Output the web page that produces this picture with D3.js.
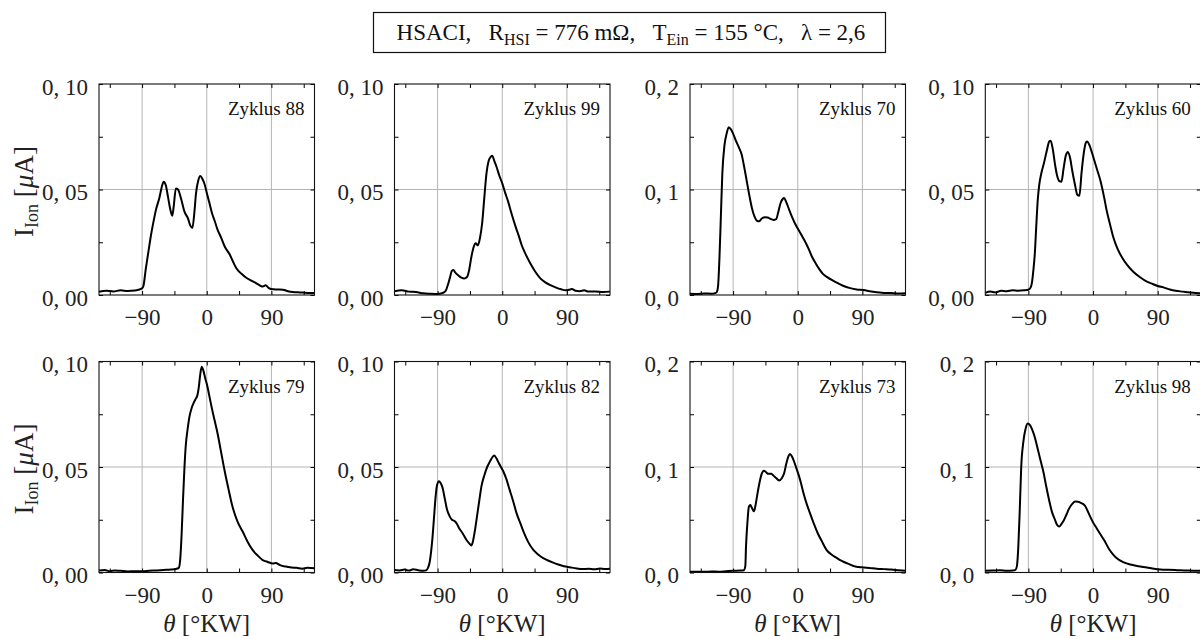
<!DOCTYPE html>
<html><head><meta charset="utf-8">
<script src="https://cdn.jsdelivr.net/npm/d3@7"></script>
<style>
html,body{margin:0;padding:0;background:#fff;}
svg{display:block;font-family:"Liberation Serif","Times New Roman",serif;}
</style></head><body>
<svg id="chart" width="1200" height="639"></svg>
<script>
// ---------- data ----------
const cycles = [88, 99, 70, 60, 79, 82, 73, 98];
const yMaxes = [0.10, 0.10, 0.2, 0.10, 0.10, 0.10, 0.2, 0.2];
const xTicksMajor = [-90, 0, 90];
const xTicksMinor = [-135, -45, 45, 135];
const yTicks010 = [0, 0.05, 0.10];
const yTickLabels010 = ["0, 00", "0, 05", "0, 10"];
const yTicks02 = [0, 0.1, 0.2];
const yTickLabels02 = ["0, 0", "0, 1", "0, 2"];

const theta88 = [-150,-140,-130,-120,-110,-100,-95,-90,-88,-85,-81,-78,-74,-71,-66,-62,-60,-57,-54,-51,-48,-46,-43,-40,-36,-31,-26,-23,-20,-17,-15,-12,-9,-6,-3,0,4,8,11,15,20,25,32,37,41,48,55,62,69,74,78,82,86,90,98,106,113,120,130,140,150];
const ion88   = [0.0015,0.0020,0.0017,0.0022,0.0019,0.0021,0.0025,0.0032,0.0045,0.012,0.021,0.0276,0.035,0.040,0.046,0.052,0.0537,0.052,0.0466,0.041,0.0376,0.042,0.0505,0.050,0.046,0.0395,0.0362,0.033,0.0318,0.040,0.048,0.054,0.0564,0.055,0.0525,0.0485,0.0432,0.038,0.0352,0.031,0.0272,0.023,0.0192,0.0155,0.0128,0.0102,0.0082,0.0068,0.0055,0.0045,0.0040,0.0046,0.0034,0.0028,0.0026,0.0025,0.0018,0.0014,0.0012,0.0010,0.0009];

const theta99 = [-150,-140,-130,-120,-110,-100,-90,-84,-79,-76,-73,-70,-68,-65,-61,-57,-53,-49,-46,-43,-40,-37,-34,-31,-28,-25,-22,-19,-16,-14,-11,-8,-4,0,4,8,13,18,23,27,33,39,46,53,60,67,75,82,88,93,97,102,108,114,120,130,140,150];
const ion99   = [0.0018,0.0022,0.0016,0.0014,0.0008,0.0006,0.0005,0.0008,0.0018,0.0045,0.008,0.0115,0.0118,0.0105,0.0092,0.0082,0.0078,0.0085,0.012,0.018,0.0225,0.0245,0.0235,0.027,0.034,0.046,0.0575,0.0635,0.0655,0.066,0.0635,0.0608,0.0565,0.0529,0.0485,0.0445,0.0385,0.0330,0.028,0.0237,0.019,0.015,0.011,0.0079,0.0060,0.0047,0.0035,0.0027,0.0022,0.0025,0.0028,0.0020,0.0018,0.0022,0.0016,0.0017,0.0014,0.0016];

const theta70 = [-150,-140,-130,-120,-115,-113,-111,-109,-107,-105,-102,-99,-96,-93,-90,-86,-82,-78,-75,-71,-67,-64,-60,-57,-54,-50,-46,-42,-38,-34,-30,-27,-24,-21,-19,-16,-12,-8,-4,0,5,10,15,20,25,30,35,41,48,55,63,73,82,92,100,110,120,130,140,150];
const ion70   = [0.0012,0.0010,0.0015,0.0012,0.0018,0.0025,0.008,0.035,0.075,0.115,0.142,0.153,0.159,0.157,0.153,0.146,0.140,0.133,0.123,0.108,0.093,0.083,0.074,0.0705,0.0698,0.0725,0.0738,0.0735,0.0722,0.0712,0.072,0.079,0.087,0.091,0.092,0.088,0.081,0.074,0.068,0.063,0.057,0.051,0.044,0.036,0.030,0.0245,0.020,0.017,0.014,0.0115,0.0088,0.0065,0.0052,0.0047,0.0035,0.0025,0.0020,0.0018,0.0015,0.0017];

const theta60 = [-150,-143,-136,-128,-120,-112,-104,-96,-90,-87,-85,-83,-81,-79,-77,-75,-72,-68,-64,-61,-59,-56,-53,-50,-47,-44,-41,-38,-35,-32,-29,-25,-22,-19,-16,-13,-10,-8,-5,-2,2,6,10,15,19,24,28,34,40,48,56,65,75,83,90,98,107,115,125,135,143,150];
const ion60   = [0.0010,0.0016,0.0012,0.0020,0.0018,0.0022,0.0020,0.0022,0.0025,0.0035,0.006,0.012,0.020,0.033,0.045,0.052,0.0577,0.063,0.069,0.0728,0.0731,0.069,0.062,0.0565,0.054,0.0537,0.060,0.066,0.0678,0.065,0.059,0.052,0.0475,0.047,0.058,0.067,0.0722,0.0727,0.071,0.068,0.0635,0.059,0.0545,0.047,0.040,0.033,0.0276,0.022,0.018,0.0140,0.011,0.0085,0.0063,0.0052,0.0043,0.0036,0.0026,0.0020,0.0016,0.0012,0.0010,0.0008];

const theta79 = [-150,-142,-135,-128,-120,-110,-100,-90,-80,-70,-60,-50,-43,-39,-37,-35,-33,-31,-29,-27,-24,-21,-18,-15,-13,-11,-9,-7,-5,-2,1,4,7,11,15,20,25,30,36,43,50,57,64,71,78,85,92,96,102,110,118,125,133,140,150];
const ion79   = [0.0009,0.0012,0.0006,0.0010,0.0008,0.0005,0.0006,0.0006,0.0008,0.0010,0.0012,0.0014,0.0017,0.0022,0.006,0.018,0.035,0.050,0.061,0.067,0.074,0.078,0.0805,0.0825,0.084,0.088,0.094,0.0975,0.096,0.092,0.088,0.083,0.078,0.072,0.066,0.057,0.048,0.040,0.031,0.024,0.0194,0.0145,0.0106,0.008,0.0059,0.005,0.0043,0.0045,0.0035,0.0028,0.0024,0.0022,0.0018,0.0022,0.0020];

const theta82 = [-150,-143,-136,-130,-124,-117,-110,-106,-103,-101,-99,-97,-95,-93,-91,-88,-86,-83,-80,-77,-73,-70,-67,-64,-60,-55,-50,-46,-43,-41,-38,-35,-32,-29,-25,-21,-17,-14,-11,-8,-5,-1,2,6,10,15,20,25,30,36,43,50,57,63,70,78,86,94,104,112,120,128,136,143,150];
const ion82   = [0.0012,0.0010,0.0014,0.0009,0.0015,0.0011,0.0008,0.0010,0.0025,0.005,0.010,0.017,0.026,0.035,0.041,0.0432,0.0425,0.040,0.035,0.030,0.0265,0.025,0.0245,0.0235,0.021,0.0185,0.0155,0.0138,0.0128,0.0145,0.020,0.027,0.034,0.0408,0.046,0.050,0.0527,0.0545,0.0554,0.054,0.052,0.0495,0.0475,0.044,0.0395,0.034,0.028,0.0235,0.019,0.0145,0.0108,0.0085,0.0068,0.0058,0.0048,0.0038,0.003,0.0025,0.0019,0.0016,0.0018,0.0015,0.0019,0.0016,0.0018];

const theta73 = [-150,-140,-130,-120,-110,-100,-90,-80,-75,-73,-72,-70,-68,-66,-64,-61,-59,-56,-53,-50,-47,-44,-41,-37,-34,-30,-26,-22,-19,-16,-13,-11,-8,-5,-2,1,4,8,12,17,22,28,34,40,47,53,59,66,73,78,85,92,100,110,120,130,140,150];
const ion73   = [0.0006,0.0008,0.0006,0.0009,0.0008,0.0012,0.0016,0.0018,0.0022,0.006,0.025,0.048,0.0625,0.064,0.0615,0.058,0.063,0.075,0.086,0.094,0.0965,0.095,0.0935,0.0935,0.092,0.0895,0.0872,0.0895,0.094,0.103,0.110,0.1124,0.110,0.105,0.099,0.093,0.086,0.0752,0.066,0.0562,0.047,0.037,0.029,0.0215,0.017,0.0143,0.0117,0.0095,0.0075,0.006,0.0052,0.0048,0.0043,0.0036,0.0032,0.0028,0.0022,0.0016];

const theta98 = [-150,-140,-130,-120,-112,-108,-106,-104,-102,-100,-97,-94,-91,-88,-85,-81,-77,-73,-69,-65,-61,-57,-53,-50,-47,-44,-41,-37,-33,-29,-25,-21,-17,-14,-11,-8,-4,0,5,10,16,22,28,34,42,52,63,75,85,94,105,117,128,140,150];
const ion98   = [0.0016,0.0018,0.0022,0.0016,0.0018,0.0025,0.006,0.025,0.060,0.100,0.124,0.136,0.1413,0.140,0.136,0.128,0.117,0.106,0.095,0.081,0.068,0.057,0.050,0.045,0.0435,0.046,0.049,0.055,0.061,0.065,0.0672,0.067,0.066,0.065,0.063,0.059,0.053,0.0475,0.042,0.0365,0.030,0.0225,0.017,0.013,0.0098,0.0076,0.006,0.0048,0.0036,0.0029,0.0025,0.0022,0.0019,0.0017,0.0016];

const thetas = [theta88, theta99, theta70, theta60, theta79, theta82, theta73, theta98];
const ions   = [ion88, ion99, ion70, ion60, ion79, ion82, ion73, ion98];

// ---------- layout ----------
const svg = d3.select("#chart");
const colX = [99, 394.5, 690, 985.3];
const rowY = [84, 361.5];
const W = 215.5, H = 211;
const FONT = "'Liberation Serif','Times New Roman',serif";
const xFmt = d3.format("d");

cycles.forEach((cyc, i) => {
  const col = i % 4, row = Math.floor(i / 4);
  const yMax = yMaxes[i];
  const yT = yMax > 0.15 ? yTicks02 : yTicks010;
  const yL = yMax > 0.15 ? yTickLabels02 : yTickLabels010;
  const yMinor = [yT[0] + (yT[1]-yT[0])/2, yT[1] + (yT[2]-yT[1])/2];

  const g = svg.append("g").attr("transform", `translate(${colX[col]},${rowY[row]})`);
  const x = d3.scaleLinear().domain([-150, 150]).range([0, W]);
  const y = d3.scaleLinear().domain([0, yMax]).range([H, 0]);

  // grid
  g.selectAll(".vg").data(xTicksMajor).join("line")
    .attr("x1", d => x(d)).attr("x2", d => x(d)).attr("y1", 0).attr("y2", H)
    .attr("stroke", "#b4b4b4").attr("stroke-width", 1);
  g.append("line").attr("x1", 0).attr("x2", W).attr("y1", y(yT[1])).attr("y2", y(yT[1]))
    .attr("stroke", "#b4b4b4").attr("stroke-width", 1);

  // curve
  const pts = thetas[i].map((t, k) => [t, ions[i][k]]);
  g.append("path").datum(pts)
    .attr("d", d3.line().x(d => x(d[0])).y(d => y(d[1])).curve(d3.curveMonotoneX))
    .attr("fill", "none").attr("stroke", "#000").attr("stroke-width", 2)
    .attr("stroke-linejoin", "round");

  const allX = [...xTicksMinor, ...xTicksMajor].sort((a, b) => a - b);
  const allY = [...yT, ...yMinor].sort((a, b) => a - b);

  // bottom axis
  const gb = g.append("g").attr("transform", `translate(0,${H})`)
    .call(d3.axisBottom(x).tickValues(allX).tickSizeInner(-4).tickSizeOuter(0)
      .tickFormat(d => xTicksMajor.includes(d) ? xFmt(d) : ""));
  gb.select(".domain").remove();
  gb.attr("font-family", FONT).attr("font-size", 23);
  gb.selectAll("text").attr("y", 30).attr("dy", 0).attr("fill", "#222");
  // top axis
  const gt = g.append("g").call(d3.axisTop(x).tickValues(allX).tickSizeInner(-4).tickSizeOuter(0).tickFormat(""));
  gt.select(".domain").remove();
  // left axis
  const gl = g.append("g")
    .call(d3.axisLeft(y).tickValues(allY).tickSizeInner(-4).tickSizeOuter(0)
      .tickFormat(d => { const k = yT.findIndex(v => Math.abs(v - d) < 1e-9); return k >= 0 ? yL[k] : ""; }));
  gl.select(".domain").remove();
  gl.attr("font-family", FONT).attr("font-size", 23);
  gl.selectAll("text").attr("x", -11).attr("dy", "0.45em").attr("fill", "#222");
  // right axis
  const gr = g.append("g").attr("transform", `translate(${W},0)`)
    .call(d3.axisRight(y).tickValues(allY).tickSizeInner(-4).tickSizeOuter(0).tickFormat(""));
  gr.select(".domain").remove();

  // frame
  g.append("rect").attr("x", 0).attr("y", 0).attr("width", W).attr("height", H)
    .attr("fill", "none").attr("stroke", "#111").attr("stroke-width", 1.1);

  // cycle label
  g.append("text").attr("x", W - 10).attr("y", 31).attr("text-anchor", "end")
    .attr("font-family", FONT).attr("font-size", 19).attr("fill", "#111")
    .text("Zyklus " + cyc);

  // y label
  if (col === 0) {
    const t = svg.append("text")
      .attr("transform", `translate(33,${rowY[row] + H / 2 + 2}) rotate(-90)`)
      .attr("text-anchor", "middle").attr("font-family", FONT).attr("font-size", 27).attr("fill", "#222")
      .style("white-space", "pre");
    t.append("tspan").text("I");
    t.append("tspan").attr("font-size", 18).attr("dy", 5).text("Ion");
    t.append("tspan").attr("dy", -5).text(" [");
    t.append("tspan").attr("font-style", "italic").text("μ");
    t.append("tspan").text("A]");
  }
  // x label
  if (row === 1) {
    const t = svg.append("text")
      .attr("x", colX[col] + W / 2).attr("y", 632)
      .attr("text-anchor", "middle").attr("font-family", FONT).attr("font-size", 25).attr("fill", "#222")
      .style("white-space", "pre");
    t.append("tspan").attr("font-style", "italic").text("θ");
    t.append("tspan").text(" [°KW]");
  }
});

// ---------- title box ----------
svg.append("rect").attr("x", 373.5).attr("y", 12.5).attr("width", 512).attr("height", 40)
  .attr("fill", "#fff").attr("stroke", "#111").attr("stroke-width", 1.2);
const tt = svg.append("text").attr("x", 631).attr("y", 40).attr("text-anchor", "middle")
  .attr("font-family", FONT).attr("font-size", 23).attr("fill", "#111")
  .style("white-space", "pre");
tt.append("tspan").text("HSACI,   R");
tt.append("tspan").attr("font-size", 16).attr("dy", 5).text("HSI");
tt.append("tspan").attr("dy", -5).text(" = 776 mΩ,   T");
tt.append("tspan").attr("font-size", 16).attr("dy", 5).text("Ein");
tt.append("tspan").attr("dy", -5).text(" = 155 °C,   λ = 2,6");
</script>
</body></html>
